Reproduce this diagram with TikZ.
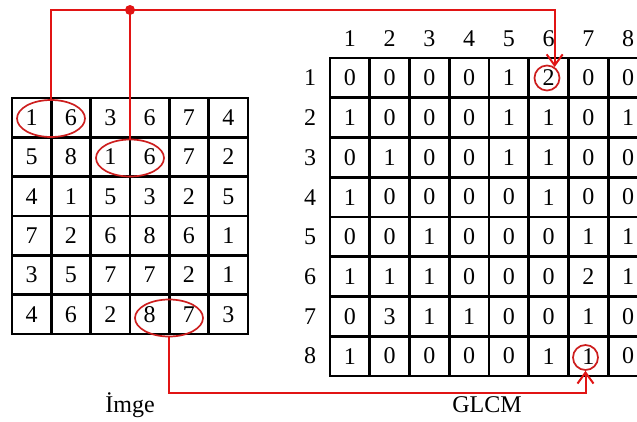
\documentclass[tikz,border=0pt]{standalone}
\usepackage{fontspec}
\setmainfont{Liberation Serif}
\usetikzlibrary{arrows.meta,shapes.geometric}
\definecolor{linkred}{RGB}{225,20,20}
\definecolor{markred}{RGB}{205,30,30}
\begin{document}
\begin{tikzpicture}[x=1pt,y=-1pt,
  font=\fontsize{24}{26}\selectfont,
  imgcell/.style={draw=black,line width=2.8pt,minimum size=39.33pt,inner sep=0pt,anchor=center},
  glcmcell/.style={draw=black,line width=2.8pt,minimum size=39.75pt,inner sep=0pt,anchor=center},
  pairmark/.style={draw=markred,line width=1.7pt,ellipse,minimum width=68pt,minimum height=37pt,inner sep=0pt},
  hitmark/.style={draw=markred,line width=1.7pt,circle,minimum size=25pt,inner sep=0pt},
  link/.style={draw=linkred,line width=2pt},
  linkarrow/.style={link,-{Straight Barb[length=11pt,width=16pt,line width=2pt]}},
  junction/.style={circle,fill=linkred,minimum size=10pt,inner sep=0pt}]
\clip (0,0) rectangle (637,421);
\fill[white] (0,0) rectangle (637,421);

% image matrix
\foreach \row [count=\r] in {{1,6,3,6,7,4},{5,8,1,6,7,2},{4,1,5,3,2,5},{7,2,6,8,6,1},{3,5,7,7,2,1},{4,6,2,8,7,3}}{
  \foreach \v [count=\c] in \row {
    \node[imgcell] (L-\r-\c) at ({12+(\c-0.5)*39.33},{98+(\r-0.5)*39.33}) {\v};
  }
}

% co-occurrence matrix with its headers
\foreach \row [count=\r] in {{0,0,0,0,1,2,0,0},{1,0,0,0,1,1,0,1},{0,1,0,0,1,1,0,0},{1,0,0,0,0,1,0,0},{0,0,1,0,0,0,1,1},{1,1,1,0,0,0,2,1},{0,3,1,1,0,0,1,0},{1,0,0,0,0,1,1,0}}{
  \foreach \v [count=\c] in \row {
    \node[glcmcell] (G-\r-\c) at ({330+(\c-0.5)*39.75},{58+(\r-0.5)*39.75}) {\v};
  }
}
\foreach \k in {1,...,8}{
  \node (H-\k) at ({330+(\k-0.5)*39.75},39) {\k};
  \node (R-\k) at (310,{58+(\k-0.5)*39.75}) {\k};
}

% highlighted pairs and counts
\node[pairmark] (e1) at (51,118.5) {};
\node[pairmark] (e2) at (130,158) {};
\node[pairmark] (e3) at (169,318) {};
\node[hitmark] (c1) at (547,78) {};
\node[hitmark] (c2) at (585.5,357.5) {};

% connectors
\node[junction] (dot) at (130,10) {};
\draw[link] (e1.north) |- (dot.center);
\draw[link] (e2.north) -- (dot.center);
\draw[linkarrow] (dot.center) -| (c1.55);
\coordinate (bend) at (169,393);
\draw[linkarrow] (e3.south) -- (bend) -| (c2.south);

% captions
\node (imgcap) at (130,405) {İmge};
\node (glcmcap) at (487,405) {GLCM};
\end{tikzpicture}
\end{document}
